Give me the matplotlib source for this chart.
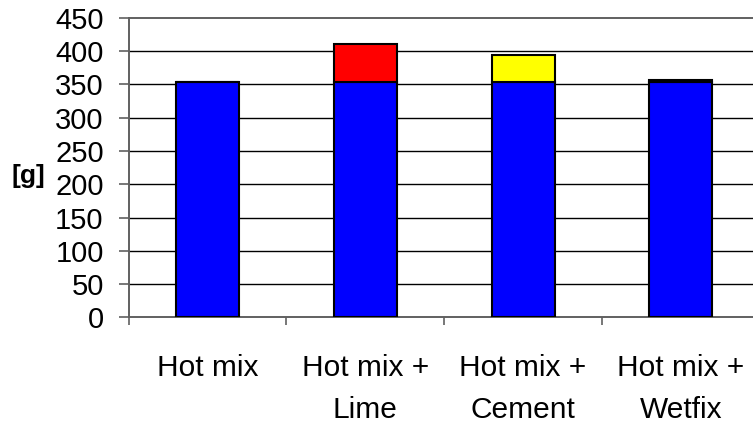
import matplotlib
matplotlib.use("Agg")
import matplotlib.pyplot as plt
import numpy as np

# data
categories = ["Hot mix", "Hot mix +\nLime", "Hot mix +\nCement", "Hot mix +\nWetfix"]
base_mix = [354, 354, 354, 354]
additive = [0, 56, 40, 2.5]
additive_colors = ["#0000ff", "#ff0000", "#ffff00", "#000000"]
yticks = [0, 50, 100, 150, 200, 250, 300, 350, 400, 450]

plt.rcParams["font.family"] = ["Liberation Sans", "DejaVu Sans"]

fig = plt.figure(figsize=(7.53, 4.26), dpi=100)
ax = fig.add_axes([0.1709, 0.2547, 0.838, 0.7042])

x = np.arange(len(categories))
ax.bar(x, base_mix, width=0.4, color="#0000ff", edgecolor="black", linewidth=1.5, zorder=3)
ax.bar(x, additive, width=0.4, bottom=base_mix, color=additive_colors,
       edgecolor="black", linewidth=1.5, zorder=3)

ax.set_xlim(-0.5, len(categories) - 0.5)
ax.set_ylim(0, 450)
ax.set_yticks(yticks)
ax.set_yticklabels([str(v) for v in yticks], fontsize=21)

# horizontal gridlines
for v in yticks[1:-1]:
    ax.axhline(v, color="black", linewidth=1.0, zorder=1)

# category boundaries as ticks, names in between
ax.set_xticks(np.arange(len(categories) + 1) - 0.5)
ax.set_xticklabels([])
ax.set_xticks(x, minor=True)
ax.set_xticklabels(categories, minor=True, fontsize=21.5, linespacing=1.6)
ax.tick_params(axis="x", which="minor", length=0, pad=26.5)
ax.tick_params(axis="x", which="major", length=6, width=1.2, color="#606060", direction="out")
ax.tick_params(axis="y", length=7, width=1.2, color="#606060", direction="out", pad=11)

for side in ["left", "bottom", "top"]:
    ax.spines[side].set_color("#606060")
    ax.spines[side].set_linewidth(1.4)
ax.spines["right"].set_visible(False)

fig.text(0.038, 0.587, "[g]", fontsize=19, fontweight="bold", ha="center", va="center")

fig.savefig("out.png", dpi=100)
